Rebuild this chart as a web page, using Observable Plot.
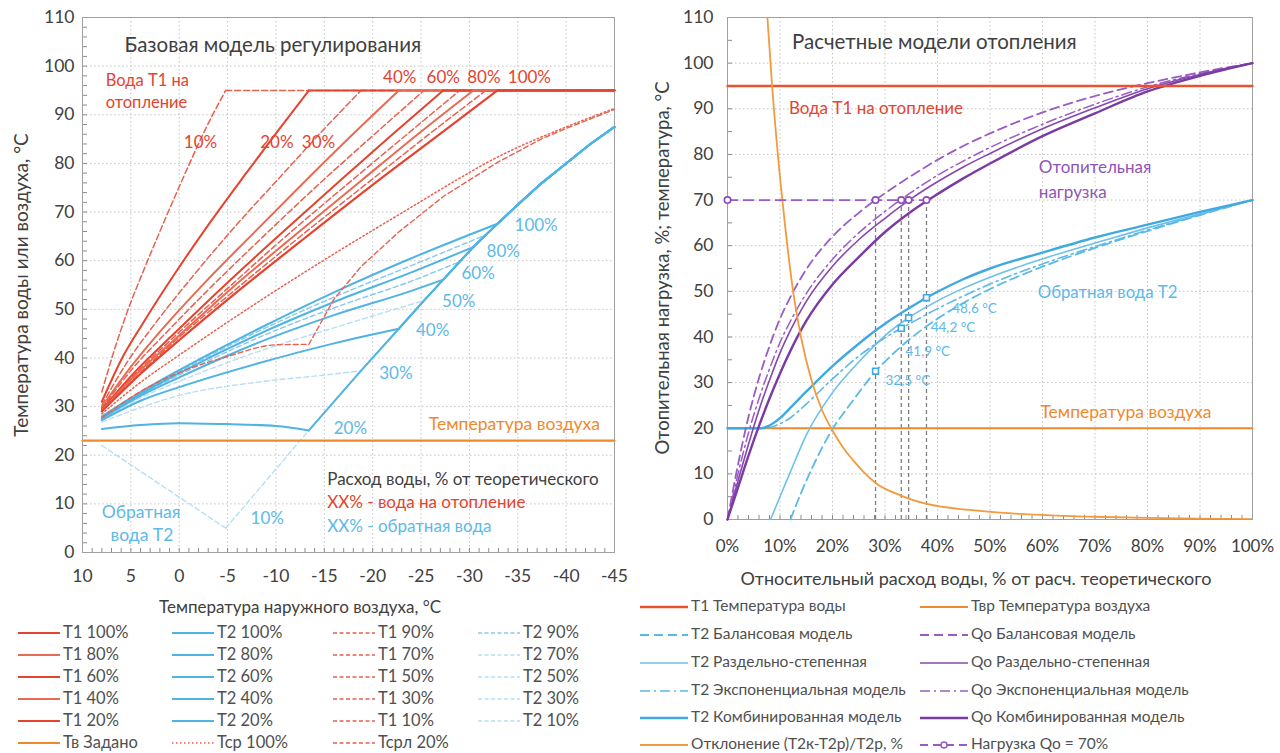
<!DOCTYPE html>
<html><head><meta charset="utf-8">
<script src="https://cdn.jsdelivr.net/npm/d3@7"></script>
<script src="https://cdn.jsdelivr.net/npm/@observablehq/plot@0.6"></script>
<style>
body{margin:0;background:#fff;}
#root{position:relative;width:1280px;height:753px;overflow:hidden;font-family:Lato,"Open Sans","Noto Sans",sans-serif;color:#404040}
.t{position:absolute;white-space:nowrap;line-height:1}
</style></head><body><div id="root"></div>
<script>
// ================= LEFT CHART DATA: [outdoor temperature °C, water temperature °C] =================
const leftXTicks = [10, 5, 0, -5, -10, -15, -20, -25, -30, -35, -40, -45];
const leftYTicks = [0, 10, 20, 30, 40, 50, 60, 70, 80, 90, 100, 110];

// supply water T1, rising part up to the 95 °C cap
const T1_10  = [[8,33],[6.7,41.7],[5.5,48.8],[3.6,58.4],[1.7,67.4],[-0.8,78.8],[-2.7,87],[-4.8,95]];
const T1_20  = [[8,31],[5.9,40],[3.7,47.3],[0.5,57.2],[-2.7,66.5],[-7,78.2],[-10.2,86.7],[-13.4,95]];
const T1_30  = [[8,30.3],[5.3,39.4],[2.6,46.8],[-1.4,56.8],[-5.4,66.2],[-10.8,78],[-14.8,86.7],[-18.8,95]];
const T1_40  = [[8,29.9],[4.9,38.4],[1.9,45.6],[-2.7,55.6],[-7.4,65.1],[-13.5,77.3],[-18.1,86.3],[-22.7,95]];
const T1_50  = [[8,29.6],[4.7,38.1],[1.3,45.3],[-3.7,55.4],[-8.7,65],[-15.3,77.3],[-20.3,86.2],[-25.3,95]];
const T1_60  = [[8,29.4],[4.5,37.3],[0.9,44.3],[-4.4,54.4],[-9.7,64.1],[-16.7,76.6],[-22,85.9],[-27.3,95]];
const T1_70  = [[8,29.3],[4.3,37.2],[0.6,44.2],[-5,54.3],[-10.5,64.1],[-17.9,76.6],[-23.5,85.9],[-29,95]];
const T1_80  = [[8,29.2],[4.2,37.1],[0.3,44.1],[-5.4,54.3],[-11.2,64],[-18.9,76.6],[-24.6,85.9],[-30.4,95]];
const T1_90  = [[8,29.1],[4,37],[0.1,44.1],[-5.9,54.2],[-11.9,64],[-19.8,76.5],[-25.7,85.8],[-31.7,95]];
const T1_100 = [[8,29],[3.9,36.9],[-0.2,44],[-6.3,54.1],[-12.5,63.9],[-20.6,76.5],[-26.8,85.8],[-32.9,95]];
const T1_cap = 95, outdoorMin = -45;

// return water before it joins the common rising branch
const T2_10  = [[8,22],[-4.8,5]];
const T2_20  = [[8,25.4],[4,26.2],[0,26.6],[-5,26.4],[-10,26],[-13.4,25.1]];
const T2_30  = [[8,26.8],[4,29.8],[0,32.3],[-8,35],[-16,36.7],[-18.8,37.4]];
const T2_40  = [[8,27.2],[4,31.2],[0,34],[-8,38.8],[-16,43],[-22.7,46]];
const T2_50  = [[8,27.4],[4,31.8],[0,35.2],[-8,41.2],[-16,46.2],[-25.3,51.8]];
const T2_60  = [[8,27.6],[4,32.2],[0,36],[-8,43],[-16,48.8],[-24,53.8],[-27.3,56.1]];
const T2_70  = [[8,27.7],[4,32.4],[0,36.5],[-8,44],[-16,50.3],[-24,55.8],[-29,59.8]];
const T2_80  = [[8,27.8],[4,32.6],[0,36.9],[-8,44.7],[-16,51.5],[-24,57.6],[-30.4,62.8]];
const T2_90  = [[8,27.9],[4,32.8],[0,37.2],[-8,45.3],[-16,52.5],[-24,59],[-31.7,65.3]];
const T2_100 = [[8,28],[4,33],[0,37.5],[-8,45.8],[-16,53.5],[-24,60.5],[-32.9,67.6]];
// common rising branch of T2 once T1 is capped at 95 °C
const T2_env = [[-4.8,5],[-13.4,25.1],[-18.8,37.4],[-22.7,46],[-25.3,51.8],[-27.3,56.1],[-29,59.8],[-30.4,62.8],[-31.7,65.3],[-32.9,67.6],[-35,71.5],[-37.5,76],[-40,80],[-42.5,84],[-45,87.5]];

const Tsr_100  = [[8,28.5],[4,35],[0,40.6],[-8,51.3],[-16,61.4],[-24,71],[-28,75.8],[-32.9,81.3],[-35,83.3],[-40,87.5],[-45,91.3]];
const Tsrl_20_low  = [[8,27.7],[4,33.1],[0,37],[-5,40.3],[-10,42.7],[-13.4,42.8]];
const Tsrl_20_high = [[-13.4,42.8],[-16,52.1],[-18.8,58.8],[-22.7,65.9],[-27.3,73.2],[-32.9,80.2],[-37.5,85.1],[-40,87.2],[-45,91.1]];
const Tv_left  = [[10,23],[-45,23]];

const leftRedLabels = ["10%","20%","30%","40%","60%","80%","100%"];
const leftRedLabelX = [-2.2,-10.1,-14.4,-22.8,-27.3,-31.5,-36.2];
const leftRedLabelY = [84.2,84.2,84.2,97.6,97.6,97.6,97.6];
const leftBlueLabels = ["100%","80%","60%","50%","40%","30%","20%","10%"];
const leftBlueLabelX = [-36.9,-33.5,-30.9,-28.9,-26.2,-22.4,-17.7,-9.1];
const leftBlueLabelY = [67.3,61.8,57.3,51.7,45.7,36.8,25.4,6.9];

// ================= RIGHT CHART DATA: x = relative water flow, % =================
const rightXTicks = [0,10,20,30,40,50,60,70,80,90,100];
const rightYTicks = [0,10,20,30,40,50,60,70,80,90,100,110];
const flowPct    = [0,2,4,6,8,10,12,15,20,25,30,35,40,45,50,60,70,80,90,100];
const Qo_balance = [0,12,22.5,31,38,44,48.8,54.8,62,67.2,71.5,75.3,78.8,81.9,84.6,89.2,92.8,95.6,98,100];
const Qo_exp     = [0,10,19,26.5,33,38.8,43.5,49.5,57,62.8,67.5,71.7,75.4,78.6,81.5,86.6,91,94.8,97.7,100];
const Qo_split   = [0,8.5,16.5,24,30.5,36.5,41.5,47.8,55.5,61.3,66,70.3,74,77.3,80.2,85.6,90.2,94.4,97.5,100];
const Qo_comb    = [0,7,14,20.5,26.5,32,37,43.5,51.5,57.5,63,67.5,71.3,74.8,78,84,89,93.8,97.2,100];

const T2_comb  = [[0,20],[6.5,20],[8,20.6],[10,22.2],[12,24.5],[15,28],[20,33.6],[25,38.5],[28.2,41.4],[30,42.9],[35,46.6],[37.9,48.6],[40,49.9],[45,52.7],[50,55],[60,58.5],[70,61.8],[80,64.6],[90,67.4],[100,70]];
const T2_exp   = [[0,20],[7,20],[9,20.5],[12,22.3],[15,25.3],[20,30.8],[25,35.8],[30,39.8],[33.1,41.9],[35,43.1],[40,46.2],[45,49],[50,51.6],[60,56],[70,59.8],[80,63.4],[90,66.8],[100,70]];
const T2_split = [[8.2,0],[10,5],[12,10.5],[15,18.5],[20,27.8],[25,34.5],[30,40.3],[34.5,44.2],[40,47.9],[45,50.7],[50,53.1],[60,57.1],[70,60.6],[80,63.9],[90,67],[100,70]];
const T2_bal   = [[12,0],[14,5.8],[16,11],[18,15.7],[20,19.8],[23.4,25.3],[26,29.3],[28.2,32.5],[30,34.6],[35,39.8],[40,44],[45,47.5],[50,50.5],[60,55.4],[70,59.5],[80,63.2],[90,66.7],[100,70]];
const deviation = [[7.6,110],[8.5,95],[10,75],[11,64],[12.5,50],[14,40],[16,30.5],[18,24],[20,19.5],[22,15.8],[24,12.9],[26,10.3],[28.2,8],[32.9,5.3],[38,3.4],[46,2.1],[52,1.5],[61.5,0.9],[70,0.6],[80,0.35],[90,0.2],[100,0.1]];
const T1_right = [[0,95],[100,95]];
const Tv_right = [[0,20],[100,20]];
const load70X  = [0, 28.2, 33.1, 34.5, 37.9];
const load70Y  = 70;
const t2MarkX  = [28.2, 33.1, 34.5, 37.9];
const t2MarkY  = [32.5, 41.9, 44.2, 48.6];
const t2MarkLabels = ["32,5 °C","41,9 °C","44,2 °C","48,6 °C"];
const t2MarkLabelX = [30.1, 33.9, 38.7, 42.8];
const t2MarkLabelY = [30.5, 36.7, 42.1, 46.2];

// ================= STYLE =================
const FONT = "Lato, 'Open Sans', 'Noto Sans', sans-serif";
const RED = "#e5432e", RED2 = "#e96a52", REDD = "#e8604f";
const BLUE = "#4fb3e4", BLUED = "#86c9ee", BLUEL = "#b7dff4", BLUET = "#5db9e8";
const ORANGE = "#f0892d", PURPLE = "#8647ad", PURPLED = "#9a5cc2";
const GRID = {stroke: "#c4c4c4", strokeDasharray: "1.5,2.5", strokeOpacity: 1, strokeWidth: 1};

const root = document.getElementById("root");
function txt(s, left, top, o = {}) {
  const d = document.createElement("div");
  d.className = "t"; d.textContent = s;
  d.style.left = left + "px"; d.style.top = top + "px";
  d.style.fontSize = (o.size || 15) + "px";
  d.style.color = o.color || "#404040";
  if (o.transform) d.style.transform = o.transform;
  root.appendChild(d); return d;
}
function place(node, left, top) {
  node.style.position = "absolute"; node.style.left = left + "px"; node.style.top = top + "px";
  root.appendChild(node);
}
const ln = (data, stroke, w, dash, extra = {}) =>
  Plot.line(data, {x: d => d[0], y: d => d[1], stroke, strokeWidth: w, strokeDasharray: dash, curve: "monotone-x", ...extra});
const lnLin = (data, stroke, w, dash, extra = {}) =>
  Plot.line(data, {x: d => d[0], y: d => d[1], stroke, strokeWidth: w, strokeDasharray: dash, curve: "linear", ...extra});
// T1: smooth rising part + flat part at the cap
const t1Marks = (rise, stroke, w, dash) => [
  ln(rise, stroke, w, dash),
  lnLin([rise[rise.length - 1], [outdoorMin, T1_cap]], stroke, w, dash)
];
// T2: smooth own part + common rising branch
const t2Marks = (pre, stroke, w, dash) => {
  const k = pre[pre.length - 1];
  return [
    pre.length > 2 ? ln(pre, stroke, w, dash) : lnLin(pre, stroke, w, dash),
    lnLin([k, ...T2_env.filter(p => p[0] < k[0])], stroke, w, dash)
  ];
};

// ================= LEFT PLOT =================
const Lw = 640, Lh = 600, LmL = 82, LmR = 26, LmT = 17, LmB = 48;
const left = Plot.plot({
  width: Lw, height: Lh, marginLeft: LmL, marginRight: LmR, marginTop: LmT, marginBottom: LmB,
  style: {fontFamily: FONT, fontSize: "17px", color: "#404040", background: "transparent", overflow: "visible"},
  x: {domain: [10, -45], label: null},
  y: {domain: [0, 110], label: null},
  marks: [
    Plot.gridX(leftXTicks, GRID),
    Plot.gridY(leftYTicks, GRID),
    Plot.tickY(d3.range(0, 111, 2), {y: d => d, stroke: "#8c8c8c", insetRight: Lw - LmL - LmR - 5}),
    Plot.tickX(d3.range(-45, 11, 1), {x: d => d, stroke: "#8c8c8c", insetTop: Lh - LmT - LmB - 4}),
    Plot.frame({stroke: "#a0a0a0"}),
    Plot.axisX(leftXTicks, {tickSize: 0, tickPadding: 17, fontSize: 17.5, tickFormat: d => String(d)}),
    Plot.axisY(leftYTicks, {tickSize: 0, tickPadding: 8, fontSize: 17.5, tickFormat: d => String(d)}),
    // light dashed return water
    ...t2Marks(T2_10, BLUEL, 1.4, "5,3"),
    ...t2Marks(T2_30, BLUEL, 1.4, "5,3"),
    ...t2Marks(T2_50, BLUEL, 1.4, "5,3"),
    ...t2Marks(T2_70, BLUED, 1.4, "5,3"),
    ...t2Marks(T2_90, BLUED, 1.4, "5,3"),
    ...t2Marks(T2_20, BLUE, 2, null),
    ...t2Marks(T2_40, BLUE, 2, null),
    ...t2Marks(T2_60, BLUE, 2, null),
    ...t2Marks(T2_80, BLUE, 2, null),
    ...t2Marks(T2_100, BLUE, 2, null),
    ln(Tsrl_20_low, REDD, 1.4, "5,3"),
    lnLin(Tsrl_20_high, REDD, 1.4, "5,3"),
    ln(Tsr_100, REDD, 1.5, "1.5,2.5"),
    ...t1Marks(T1_10, REDD, 1.5, "6,3"),
    ...t1Marks(T1_30, REDD, 1.5, "6,3"),
    ...t1Marks(T1_50, REDD, 1.5, "6,3"),
    ...t1Marks(T1_70, REDD, 1.5, "6,3"),
    ...t1Marks(T1_90, REDD, 1.5, "6,3"),
    ...t1Marks(T1_20, RED, 2, null),
    ...t1Marks(T1_40, RED2, 2, null),
    ...t1Marks(T1_60, RED, 2, null),
    ...t1Marks(T1_80, RED2, 2, null),
    ...t1Marks(T1_100, RED, 2.2, null),
    lnLin(Tv_left, ORANGE, 2.2, null),
    Plot.text(leftRedLabels, {x: (d, i) => leftRedLabelX[i], y: (d, i) => leftRedLabelY[i], text: d => d, fill: RED, fontSize: 17}),
    Plot.text(leftBlueLabels, {x: (d, i) => leftBlueLabelX[i], y: (d, i) => leftBlueLabelY[i], text: d => d, fill: BLUET, fontSize: 17}),
    Plot.text(["Базовая модель регулирования"], {x: 5.66, y: 104.3, text: d => d, textAnchor: "start", fill: "#404040", fontSize: 20.5}),
    Plot.text(["Вода Т1 на", "отопление"], {x: 7.6, y: (d, i) => [97.1, 92.4][i], text: d => d, textAnchor: "start", fill: RED, fontSize: 16.5}),
    Plot.text(["Температура воздуха"], {x: -25.8, y: 26.3, text: d => d, textAnchor: "start", fill: ORANGE, fontSize: 17.5}),
    Plot.text(["Расход воды, % от теоретического", "XX% - вода на отопление", "XX% - обратная вода"],
      {x: -15.3, y: (d, i) => [15.0, 10.3, 5.3][i], text: d => d, textAnchor: "start", fill: (d, i) => ["#404040", RED, BLUET][i], fontSize: 17}),
    Plot.text(["Обратная", "вода Т2"], {x: (d, i) => [8.0, 7.1][i], y: (d, i) => [8.3, 3.5][i], text: d => d, textAnchor: "start", fill: BLUET, fontSize: 17.5})
  ]
});
place(left, 0, 0);

// ================= RIGHT PLOT =================
const Rw = 640, Rh = 600, RmL = 87, RmR = 28, RmT = 17, RmB = 81;
const qoRows = (arr) => flowPct.map((x, i) => [x, arr[i]]);
const right = Plot.plot({
  width: Rw, height: Rh, marginLeft: RmL, marginRight: RmR, marginTop: RmT, marginBottom: RmB,
  style: {fontFamily: FONT, fontSize: "17px", color: "#404040", background: "transparent", overflow: "visible"},
  x: {domain: [0, 100], label: null},
  y: {domain: [0, 110], label: null},
  marks: [
    Plot.gridX(rightXTicks, GRID),
    Plot.gridY(rightYTicks, GRID),
    Plot.tickY(d3.range(0, 111, 5), {y: d => d, stroke: "#8c8c8c", insetRight: Rw - RmL - RmR - 5}),
    Plot.tickX(d3.range(0, 101, 2), {x: d => d, stroke: "#8c8c8c", insetTop: Rh - RmT - RmB - 4}),
    Plot.frame({stroke: "#a0a0a0"}),
    Plot.axisX(rightXTicks, {tickSize: 0, tickPadding: 20, fontSize: 17, tickFormat: d => d + "%"}),
    Plot.axisY(rightYTicks, {tickSize: 0, tickPadding: 14, fontSize: 17.5, tickFormat: d => String(d)}),
    // vertical guides at 70 % load
    Plot.ruleX(load70X.slice(1), {x: d => d, y1: 0, y2: load70Y, stroke: "#808080", strokeWidth: 1.3, strokeDasharray: "4,3"}),
    lnLin(Tv_right, ORANGE, 2.2, null),
    ln(T2_bal, "#5ab9e9", 1.8, "9,5"),
    ln(T2_split, "#6cc0ea", 1.6, null),
    ln(T2_exp, "#5ab9e9", 1.6, "10,4,2,4"),
    ln(T2_comb, "#3fa9e0", 2.4, null),
    ln(qoRows(Qo_balance), PURPLED, 1.8, "9,5"),
    ln(qoRows(Qo_exp), PURPLED, 1.5, "10,4,2,4"),
    ln(qoRows(Qo_split), PURPLE, 1.6, null),
    ln(qoRows(Qo_comb), "#7a3ba4", 2.4, null),
    lnLin(T1_right, "#e9512f", 2.4, null),
    ln(deviation, "#f29a3c", 1.8, null, {clip: true}),
    Plot.line(load70X, {x: d => d, y: load70Y, stroke: PURPLED, strokeWidth: 1.8, strokeDasharray: "10,6"}),
    Plot.dot(load70X, {x: d => d, y: load70Y, r: 3.2, stroke: "#8c4cb5", strokeWidth: 1.6, fill: "white"}),
    Plot.dot(t2MarkX, {x: d => d, y: (d, i) => t2MarkY[i], symbol: "square", r: 3.3, stroke: "#3fa9e0", strokeWidth: 1.6, fill: "white"}),
    Plot.text(t2MarkLabels, {x: (d, i) => t2MarkLabelX[i], y: (d, i) => t2MarkLabelY[i], text: d => d, textAnchor: "start", fill: BLUET, fontSize: 13.5}),
    Plot.text(["Расчетные модели отопления"], {x: 12.3, y: 104.6, text: d => d, textAnchor: "start", fill: "#404040", fontSize: 20.5}),
    Plot.text(["Вода Т1 на отопление"], {x: 11.7, y: 90, text: d => d, textAnchor: "start", fill: RED, fontSize: 17}),
    Plot.text(["Отопительная", "нагрузка"], {x: 59.3, y: (d, i) => [77.2, 71.7][i], text: d => d, textAnchor: "start", fill: "#8e55b6", fontSize: 17}),
    Plot.text(["Обратная вода Т2"], {x: 59.1, y: 49.8, text: d => d, textAnchor: "start", fill: BLUET, fontSize: 16.8}),
    Plot.text(["Температура воздуха"], {x: 59.6, y: 23.5, text: d => d, textAnchor: "start", fill: ORANGE, fontSize: 17.5})
  ]
});
place(right, 640, 0);

// ================= AXIS TITLES =================
txt("Температура наружного воздуха, °C", 300, 606, {size: 17, transform: "translate(-50%,-50%)"});
txt("Температура  воды или воздуха, °C", 20, 285, {size: 19, transform: "translate(-50%,-50%) rotate(-90deg)"});
txt("Относительный расход воды, % от расч. теоретического", 976, 578, {size: 18, transform: "translate(-50%,-50%)"});
txt("Отопительная нагрузка, %; температура, °C", 662, 268, {size: 18.5, transform: "translate(-50%,-50%) rotate(-90deg)"});

// ================= LEGENDS =================
function swatch(len, color, w, dash, marker) {
  const ns = "http://www.w3.org/2000/svg";
  const s = document.createElementNS(ns, "svg");
  s.setAttribute("width", len); s.setAttribute("height", 10);
  const l = document.createElementNS(ns, "line");
  l.setAttribute("x1", 0); l.setAttribute("x2", len); l.setAttribute("y1", 5); l.setAttribute("y2", 5);
  l.setAttribute("stroke", color); l.setAttribute("stroke-width", w);
  if (dash) l.setAttribute("stroke-dasharray", dash);
  s.appendChild(l);
  if (marker) {
    const c = document.createElementNS(ns, "circle");
    c.setAttribute("cx", len / 2); c.setAttribute("cy", 5); c.setAttribute("r", 3);
    c.setAttribute("fill", "white"); c.setAttribute("stroke", color); c.setAttribute("stroke-width", 1.6);
    s.appendChild(c);
  }
  return s;
}
function legendItem(x, y, len, gap, color, w, dash, label, size, marker) {
  const s = swatch(len, color, w, dash, marker);
  place(s, x, y - 5);
  txt(label, x + len + gap, y - size * 0.55, {size, color: "#505050"});
}
const leftLegendLabels = [
  ["Т1 100%","Т1 80%","Т1 60%","Т1 40%","Т1 20%","Тв Задано"],
  ["Т2 100%","Т2 80%","Т2 60%","Т2 40%","Т2 20%","Тср 100%"],
  ["Т1 90%","Т1 70%","Т1 50%","Т1 30%","Т1 10%","Тсрл 20%"],
  ["Т2 90%","Т2 70%","Т2 50%","Т2 30%","Т2 10%"]
];
const leftLegendStyle = [
  [[RED,2,null],[RED2,2,null],[RED,2,null],[RED2,2,null],[RED,2,null],[ORANGE,2.2,null]],
  [[BLUE,2,null],[BLUE,2,null],[BLUE,2,null],[BLUE,2,null],[BLUE,2,null],[REDD,1.5,"1.5,2.5"]],
  [[REDD,1.5,"4,2.5"],[REDD,1.5,"4,2.5"],[REDD,1.5,"4,2.5"],[REDD,1.5,"4,2.5"],[REDD,1.5,"4,2.5"],[REDD,1.5,"4,2.5"]],
  [[BLUED,1.4,"4,2.5"],[BLUEL,1.4,"4,2.5"],[BLUEL,1.4,"4,2.5"],[BLUEL,1.4,"4,2.5"],[BLUEL,1.4,"4,2.5"]]
];
const leftLegendColX = [18, 172, 333, 478];
const leftLegendRowY = [633, 655, 677, 699, 721, 743];
leftLegendLabels.forEach((col, c) => col.forEach((lab, r) => {
  const [color, w, dash] = leftLegendStyle[c][r];
  legendItem(leftLegendColX[c], leftLegendRowY[r], 42, 3, color, w, dash, lab, 16.5);
}));

const rightLegendLabels = [
  ["Т1 Температура воды","Т2 Балансовая модель","Т2 Раздельно-степенная","Т2 Экспоненциальная модель","Т2 Комбинированная модель","Отклонение (Т2к-Т2р)/Т2р, %"],
  ["Твр Температура воздуха","Qo Балансовая модель","Qo Раздельно-степенная","Qo Экспоненциальная модель","Qo Комбинированная модель","Нагрузка Qo = 70%"]
];
const rightLegendStyle = [
  [["#e9512f",2.4,null],["#5ab9e9",1.8,"9,5"],["#6cc0ea",1.6,null],["#5ab9e9",1.6,"10,4,2,4"],["#3fa9e0",2.4,null],["#f29a3c",1.8,null]],
  [[ORANGE,2.2,null],[PURPLED,1.8,"9,5"],[PURPLE,1.6,null],[PURPLED,1.5,"10,4,2,4"],["#7a3ba4",2.4,null],[PURPLED,1.8,"8,5",true]]
];
const rightLegendColX = [640, 920];
const rightLegendRowY = [607, 635, 663, 691, 718, 745];
rightLegendLabels.forEach((col, c) => col.forEach((lab, r) => {
  const [color, w, dash, marker] = rightLegendStyle[c][r];
  legendItem(rightLegendColX[c], rightLegendRowY[r], 48, 3, color, w, dash, lab, 15.5, marker);
}));
</script></body></html>
